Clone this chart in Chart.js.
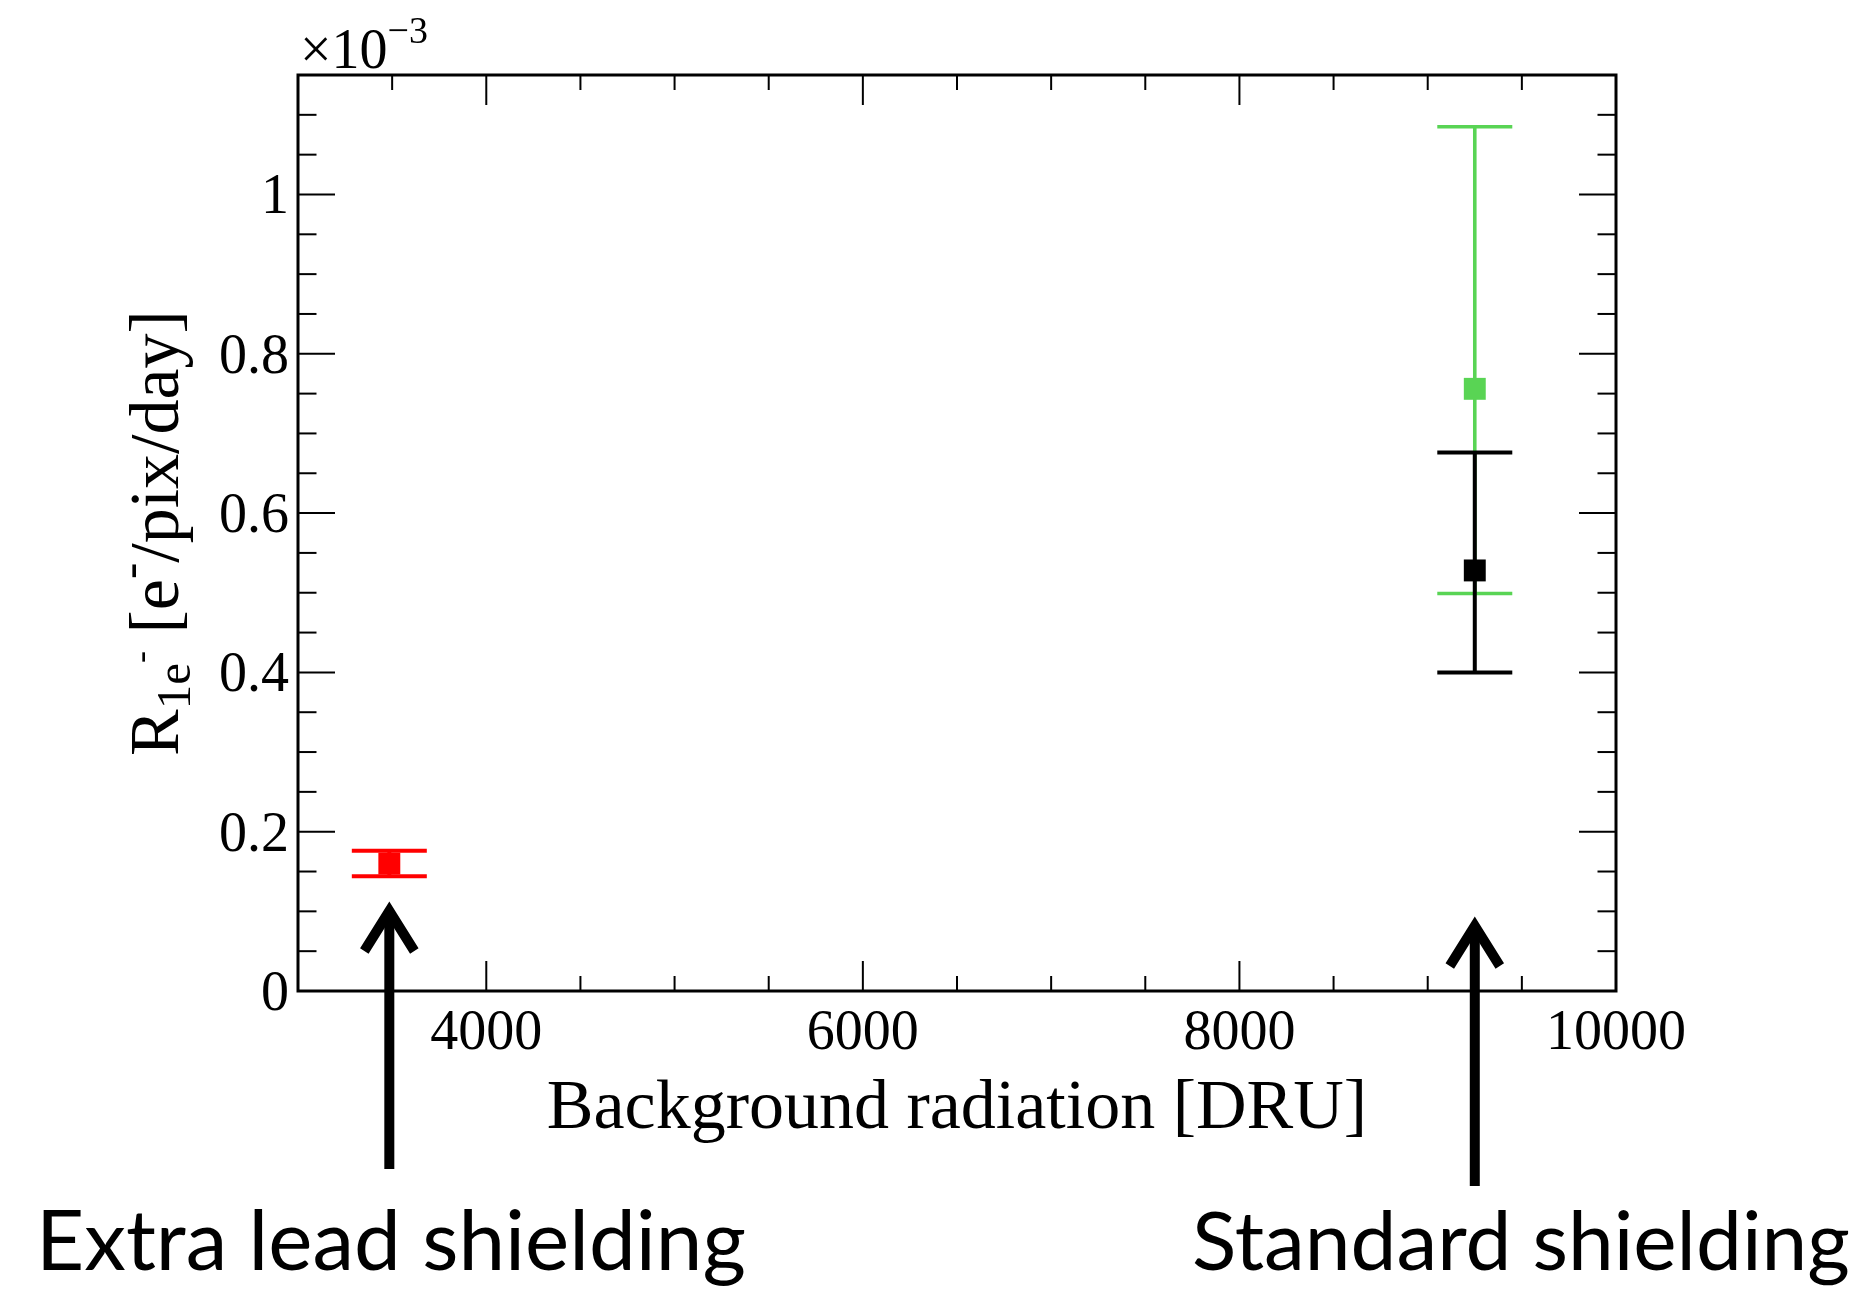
<!DOCTYPE html>
<html>
<head>
<meta charset="utf-8">
<script src="https://cdn.jsdelivr.net/npm/chart.js@4.4.0/dist/chart.umd.min.js"></script>
<style>
  html, body { margin: 0; padding: 0; background: #fff; }
  #wrap { width: 1865px; height: 1292px; }
</style>
</head>
<body>
<div id="wrap"><canvas id="myChart" width="1865" height="1292"></canvas></div>
<script>
// background radiation [DRU] and single-electron rate (in units of 1e-3 e-/pix/day)
const radiation = [3485, 9250, 9250];
const rate = [0.16, 0.756, 0.528];
const rateErrUp = [0.016, 0.329, 0.148];
const rateErrDown = [0.016, 0.257, 0.128];
const seriesNames = ["Extra lead shielding", "Standard shielding (a)", "Standard shielding (b)"];

const xMajorTicks = [4000, 6000, 8000, 10000];
const xTickLabels = ["4000", "6000", "8000", "10000"];
const yMajorTicks = [0, 0.2, 0.4, 0.6, 0.8, 1];
const yTickLabels = ["0", "0.2", "0.4", "0.6", "0.8", "1"];

const arrowLabels = ["Extra lead shielding", "Standard shielding"];
const arrowTargets = [radiation[0], radiation[1]];

const colors = ["#ff0000", "#59d454", "#000000"];
const barWidths = [4, 3.6, 4];
const SERIF = '"Liberation Serif", "Times New Roman", serif';
const SANS = 'Lato, "Open Sans", sans-serif';

function line(ctx, x1, y1, x2, y2) {
  ctx.beginPath();
  ctx.moveTo(x1, y1);
  ctx.lineTo(x2, y2);
  ctx.stroke();
}

const errorBars = {
  id: "errorBars",
  beforeDatasetsDraw(chart) {
    const { ctx, scales: { y } } = chart;
    ctx.save();
    rate.forEach((v, i) => {
      const p = chart.getDatasetMeta(i).data[0];
      const top = y.getPixelForValue(v + rateErrUp[i]);
      const bot = y.getPixelForValue(v - rateErrDown[i]);
      ctx.strokeStyle = colors[i];
      ctx.lineWidth = barWidths[i];
      line(ctx, p.x, top, p.x, bot);
      line(ctx, p.x - 37.5, top, p.x + 37.5, top);
      line(ctx, p.x - 37.5, bot, p.x + 37.5, bot);
    });
    ctx.restore();
  },
};

const frame = {
  id: "frame",
  afterDraw(chart) {
    const { ctx, chartArea: a, scales: { x, y } } = chart;
    ctx.save();
    ctx.strokeStyle = "#000";
    ctx.lineWidth = 2;
    for (let v = x.min; v <= x.max; v += 500) {
      const px = x.getPixelForValue(v);
      const len = xMajorTicks.includes(v) ? 30 : 15;
      line(ctx, px, a.bottom, px, a.bottom - len);
      line(ctx, px, a.top, px, a.top + len);
    }
    for (let i = 0; i * 0.05 < y.max; i++) {
      const py = y.getPixelForValue(i * 0.05);
      const len = i % 4 === 0 ? 37 : 18.5;
      line(ctx, a.left, py, a.left + len, py);
      line(ctx, a.right, py, a.right - len, py);
    }
    ctx.lineWidth = 3;
    ctx.strokeRect(a.left, a.top, a.width, a.height);

    // tick labels
    ctx.fillStyle = "#000";
    ctx.font = "56px " + SERIF;
    ctx.textAlign = "center";
    ctx.textBaseline = "alphabetic";
    xMajorTicks.forEach((v, i) => {
      ctx.fillText(xTickLabels[i], x.getPixelForValue(v), a.bottom + 58);
    });
    ctx.textAlign = "right";
    yMajorTicks.forEach((v, i) => {
      ctx.fillText(yTickLabels[i], a.left - 9, y.getPixelForValue(v) + 19);
    });

    // exponent
    ctx.textAlign = "left";
    ctx.fillText("\u00d710", a.left + 2, a.top - 7);
    const w = ctx.measureText("\u00d710").width;
    ctx.font = "38px " + SERIF;
    ctx.fillText("\u22123", a.left + 2 + w, a.top - 32);

    // x title
    ctx.font = "70px " + SERIF;
    ctx.textAlign = "center";
    ctx.fillText("Background radiation [DRU]", (a.left + a.right) / 2, a.bottom + 137);

    // y title
    const parts = [
      { t: "R", f: 70, dy: 0 },
      { t: "1e", f: 49, dy: 12 },
      { t: "-", f: 36, dy: -26 },
      { t: " [e", f: 70, dy: 0 },
      { t: "-", f: 49, dy: -32 },
      { t: "/pix/day]", f: 70, dy: 0 },
    ];
    let total = 0;
    parts.forEach((p) => {
      ctx.font = p.f + "px " + SERIF;
      p.w = ctx.measureText(p.t).width;
      total += p.w;
    });
    ctx.save();
    ctx.translate(178, (a.top + a.bottom) / 2);
    ctx.rotate(-Math.PI / 2);
    ctx.textAlign = "left";
    let cx = -total / 2;
    parts.forEach((p) => {
      ctx.font = p.f + "px " + SERIF;
      ctx.fillText(p.t, cx, p.dy);
      cx += p.w;
    });
    ctx.restore();

    // arrows and labels
    const tips = [a.bottom - 80, a.bottom - 65];
    const ends = [a.bottom + 178, a.bottom + 195];
    ctx.lineWidth = 10;
    arrowTargets.forEach((v, i) => {
      const px = x.getPixelForValue(v);
      ctx.lineCap = "butt";
      line(ctx, px, tips[i] + 4, px, ends[i]);
      ctx.lineJoin = "miter";
      ctx.beginPath();
      ctx.moveTo(px - 25, tips[i] + 40);
      ctx.lineTo(px, tips[i]);
      ctx.lineTo(px + 25, tips[i] + 40);
      ctx.stroke();
    });

    const textSpans = [[36, 746], [1192, 1850]];
    ctx.textAlign = "left";
    arrowLabels.forEach((t, i) => {
      ctx.font = "76px " + SANS;
      const mw = ctx.measureText(t).width;
      const size = 76 * (textSpans[i][1] - textSpans[i][0]) / mw;
      ctx.font = size.toFixed(1) + "px " + SANS;
      ctx.fillText(t, textSpans[i][0], 1270);
    });
    ctx.restore();
  },
};

new Chart(document.getElementById("myChart"), {
  type: "scatter",
  data: {
    datasets: seriesNames.map((name, i) => ({
      label: name,
      data: [{ x: radiation[i], y: rate[i] }],
      pointStyle: "rect",
      pointRadius: 15.5,
      borderWidth: 0,
      backgroundColor: colors[i],
      order: 2 - i,
    })),
  },
  options: {
    responsive: false,
    animation: false,
    events: [],
    layout: { padding: { left: 298, right: 249, top: 75, bottom: 301 } },
    scales: {
      x: { type: "linear", min: 3000, max: 10000, display: false },
      y: { type: "linear", min: 0, max: 1.15, display: false },
    },
    plugins: {
      legend: { display: false },
      tooltip: { enabled: false },
    },
  },
  plugins: [errorBars, frame],
});
</script>
</body>
</html>
